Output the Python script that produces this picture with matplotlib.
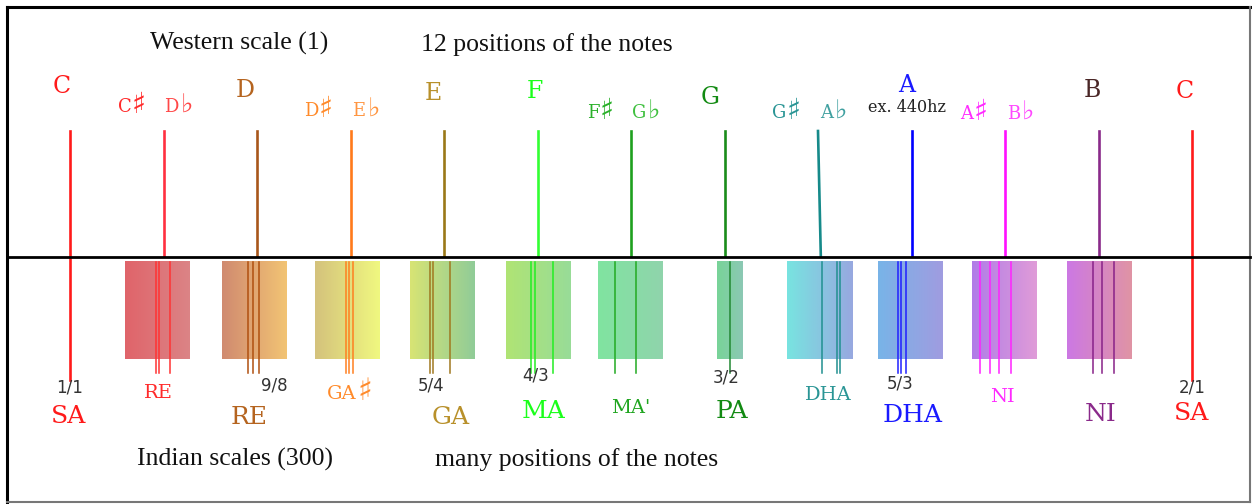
import numpy as np
import matplotlib.pyplot as plt
from matplotlib.colors import LinearSegmentedColormap

# western scale: 12 semitone positions
naturals = ['C', 'D', 'E', 'F', 'G', 'A', 'B', 'C']
natural_idx = [0, 2, 4, 5, 7, 9, 11, 12]
sharps = ['C', 'D', 'F', 'G', 'A']
flats = ['D', 'E', 'G', 'A', 'B']
accidental_idx = [1, 3, 6, 8, 10]

# indian scale: bands of possible positions (in semitones) and shruti lines
indian_names = ['RE', 'RE', 'GA♯', 'GA', 'MA', "MA'", 'PA', 'DHA', 'DHA', 'NI', 'NI']
indian_main = [False, True, False, True, True, False, True, False, True, False, True]
band_lo = [0.588, 1.626, 2.620, 3.636, 4.663, 5.647, 6.920, 7.668, 8.642, 9.647, 10.663]
band_hi = [1.283, 2.321, 3.305, 4.321, 5.348, 6.332, 7.198, 8.364, 9.337, 10.342, 11.348]
shrutis = [
    [0.920, 0.955, 1.070],
    [1.904, 1.957, 2.021],
    [2.952, 2.984, 3.027],
    [3.850, 3.882, 4.064],
    [4.930, 4.973, 5.166],
    [5.829, 6.053],
    [7.059],
    [8.043, 8.203, 8.235],
    [8.856, 8.888, 8.941],
    [9.733, 9.840, 9.936, 10.064],
    [10.941, 11.037, 11.166],
]
ratios = ['1/1', '9/8', '5/4', '4/3', '3/2', '5/3', '2/1']
ratio_vals = [1, 9 / 8, 5 / 4, 4 / 3, 3 / 2, 5 / 3, 2]

# colours
nat_text_col = ['#ff1a1a', '#b5641f', '#b8902a', '#1aff1a', '#128a12', '#1a1aff', '#4a2626', '#ff1a1a']
nat_line_col = ['#ff1a1a', '#a8561a', '#9a7818', '#33ff33', '#1a8c1a', '#0000ff', '#8a2a8a', '#ff1a1a']
sharp_col = ['#ff2a2a', '#ff8a2a', '#2ab02a', '#2a9595', '#ff2aff']
flat_col = ['#ff4848', '#ff9540', '#40c040', '#40a0a0', '#ff48ff']
acc_line_col = ['#ff3040', '#ff7a1a', '#1fa01f', '#168a8a', '#ff10ff']
band_left = ['#e0646a', '#d08a70', '#d4c27c', '#d8e474', '#b0e474', '#80e4a0',
             '#78d498', '#78e4e0', '#78b4e8', '#b07ce8', '#cc78e4']
band_right = ['#db8486', '#f2c474', '#f0f880', '#90cc98', '#98dc98', '#90d4ac',
              '#8cc8b4', '#98a8e0', '#a09ce0', '#e09cd8', '#e094a4']
shruti_col = ['#ff3333', '#b05010', '#ff8020', '#a07820', '#22ee22', '#22aa22',
              '#228833', '#209090', '#2020ff', '#ff22ff', '#882288']
indian_col = ['#ff2a2a', '#b5641f', '#ff8a2a', '#b8902a', '#1aff1a', '#1fa51f',
              '#128a12', '#2a9595', '#1a1aff', '#ff2aff', '#8a2a8a']

# layout (pixels)
W, H = 1252, 504
X0, STEP = 70, 93.5


def px(p):
    return (p - X0) / STEP


SERIF = ['DejaVu Serif', 'DejaVu Sans']
TIMES = ['Liberation Serif', 'DejaVu Serif']

fig = plt.figure(figsize=(W / 100, H / 100), dpi=100)
ax = fig.add_axes([0, 0, 1, 1])


def note_with_sign(x_split, base, letters, sign, color, size, sign_size, gap):
    # letters end at x_split, the sign follows after a small gap
    ax.text(px(x_split), base, letters, color=color, fontsize=size, family=SERIF,
            ha='right', va='baseline')
    ax.text(px(x_split + gap), base + 1, sign, color=color, fontsize=sign_size,
            family='DejaVu Sans', ha='left', va='baseline')


# frame and middle line
ax.plot([px(7), px(1250)], [7, 7], color='black', lw=2.2)
ax.plot([px(7), px(7)], [7, 502], color='black', lw=2.2)
ax.plot([px(1250), px(1250)], [7, 502], color='#777777', lw=1.5)
ax.plot([px(7), px(1250)], [502, 502], color='#777777', lw=1.5)
ax.plot([px(7), px(1250)], [257, 257], color='black', lw=2, zorder=4)

# western lines
for k, c in zip(natural_idx, nat_line_col):
    bottom = 380 if k in (0, 12) else 256
    ax.plot([k, k], [131, bottom], color=c, lw=1.9, zorder=3)
for k, c in zip(accidental_idx, acc_line_col):
    ax.plot([k, k + (0.03 if k == 8 else 0)], [131, 256], color=c, lw=1.9, zorder=3)

# western labels
nat_dx = [-8, -12, -11, -3, -14, -5, -6, -7]
nat_base = [93, 97, 100, 98, 104, 92, 97, 98]
for k, name, c, dx, b in zip(natural_idx, naturals, nat_text_col, nat_dx, nat_base):
    ax.text(k + px(X0 + dx), b, name, color=c, fontsize=17, family=SERIF,
            ha='center', va='baseline')
acc_base = [112, 116, 118, 118, 119]
for k, s, f, cs, cf, b in zip(accidental_idx, sharps, flats, sharp_col, flat_col, acc_base):
    xs = X0 + (k - 0.35) * STEP
    xf = X0 + (k + 0.17) * STEP
    note_with_sign(xs + 1, b, s, '♯', cs, 13, 21, 0)
    note_with_sign(xf - 1, b, f, '♭', cf, 13, 19, 2)
ax.text(px(907), 112, 'ex. 440hz', color='#222222', fontsize=11.5, family=SERIF,
        ha='center', va='baseline')

# indian bands
grad = np.linspace(0, 1, 256).reshape(1, -1)
for lo, hi, cl, cr in zip(band_lo, band_hi, band_left, band_right):
    cm = LinearSegmentedColormap.from_list('b', [cl, cr])
    ax.imshow(grad, cmap=cm, extent=(lo, hi, 359, 261), aspect='auto', zorder=1)

for pos, c in zip(shrutis, shruti_col):
    for p in pos:
        ax.plot([p, p], [262, 373], color=c, lw=1.1, zorder=2)

# ratio labels
ratio_dx = [0, 0.15, 0, 0, 0, 0.03, 0]
ratio_base = [393, 390, 390, 381, 382, 389, 393]
for r, v, dx, b in zip(ratios, ratio_vals, ratio_dx, ratio_base):
    ax.text(12 * np.log2(v) + dx, b, r, color='#333333', fontsize=12,
            family='DejaVu Sans', ha='center', va='baseline')

# indian labels
small_x = {0: 158, 2: 349, 5: 631, 7: 828, 9: 1002}
small_b = {0: 398, 2: 399, 5: 413, 7: 400, 9: 402}
big_x = {1: 249, 3: 451, 4: 544, 6: 732, 8: 913, 10: 1101}
big_b = {1: 424, 3: 424, 4: 418, 6: 418, 8: 422, 10: 421}
for i, (name, main, c) in enumerate(zip(indian_names, indian_main, indian_col)):
    if main:
        ax.text(px(big_x[i]), big_b[i], name, color=c, fontsize=18, family=SERIF,
                ha='center', va='baseline')
    elif name.endswith('♯'):
        note_with_sign(small_x[i] + 8, small_b[i], name[:-1], '♯', c, 14, 22, 0)
    else:
        ax.text(px(small_x[i]), small_b[i], name, color=c, fontsize=14, family=SERIF,
                ha='center', va='baseline')
ax.text(px(69), 423, 'SA', color='#ff1a1a', fontsize=18, family=SERIF, ha='center', va='baseline')
ax.text(px(1192), 420, 'SA', color='#ff1a1a', fontsize=18, family=SERIF, ha='center', va='baseline')

# titles
ax.text(px(239), 50, 'Western scale (1)', fontsize=18.5, family=TIMES, color='#111111',
        ha='center', va='baseline')
ax.text(px(547), 51, '12 positions of the notes', fontsize=18.5, family=TIMES,
        color='#111111', ha='center', va='baseline')
ax.text(px(235), 466, 'Indian scales (300)', fontsize=18.5, family=TIMES, color='#111111',
        ha='center', va='baseline')
ax.text(px(577), 466, 'many positions of the notes', fontsize=18.5, family=TIMES,
        color='#111111', ha='center', va='baseline')

ax.set_xlim(px(0), px(W))
ax.set_ylim(H, 0)
ax.axis('off')

fig.savefig('out.png', dpi=100, facecolor='white')
